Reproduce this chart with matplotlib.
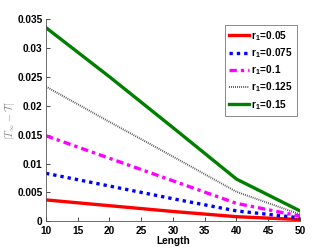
import matplotlib
matplotlib.use("Agg")
import matplotlib.pyplot as plt

plt.rcParams['font.family'] = ['Liberation Sans', 'DejaVu Sans']
plt.rcParams['font.weight'] = 'bold'
plt.rcParams['mathtext.fontset'] = 'cm'

length = [10, 20, 30, 40, 50]
r1_labels = ['0.05', '0.075', '0.1', '0.125', '0.15']
err_005 = [0.0037, 0.0027, 0.0017, 0.0008, 0.0003]
err_0075 = [0.0083, 0.0061, 0.0039, 0.0018, 0.0006]
err_01 = [0.0148, 0.0109, 0.0070, 0.0031, 0.0009]
err_0125 = [0.0233, 0.0172, 0.0112, 0.0051, 0.0012]
err_015 = [0.0335, 0.0250, 0.0162, 0.0073, 0.0018]
yticks = [0, 0.005, 0.01, 0.015, 0.02, 0.025, 0.03, 0.035]
ytick_labels = ['0', '0.005', '0.01', '0.015', '0.02', '0.025', '0.03', '0.035']
xticks = [10, 15, 20, 25, 30, 35, 40, 45, 50]

fig = plt.figure(figsize=(3.32, 2.49), dpi=100)
ax = fig.add_axes([46/332, 1-221.3/249, 254/332, 202.3/249])

series = [err_005, err_0075, err_01, err_0125, err_015]
styles = [
    dict(color='#ff0000', lw=2.4, ls='-'),
    dict(color='#0000ff', lw=2.4, ls=(0, (1, 1.2))),
    dict(color='#ff00ff', lw=2.4, ls=(0, (2.2, 1.2, 1, 1.2))),
    dict(color='#4a4a4a', lw=1.4, ls=(0, (0.45, 0.6))),
    dict(color='#007f00', lw=2.4, ls='-'),
]
for vals, lab, st in zip(series, r1_labels, styles):
    ax.plot(length, vals, label=r'r$_{\mathregular{1}}$=' + lab, **st)

ax.set_xlim(10, 50)
ax.set_ylim(0, 0.035)
ax.set_xticks(xticks)
ax.set_xticklabels([str(x) for x in xticks], fontsize=7.3, fontweight='bold')
ax.set_yticks(yticks)
ax.set_yticklabels(ytick_labels, fontsize=7.3, fontweight='bold')
ax.tick_params(direction='in', length=3, width=0.5, pad=2.5, colors='black')
ax.tick_params(axis='x', pad=3.5)
for s in ['top', 'right']:
    ax.spines[s].set_visible(False)
for s in ['left', 'bottom']:
    ax.spines[s].set_linewidth(0.6)
    ax.spines[s].set_color('#555555')

ax.set_xlabel('Length', fontsize=7.3, fontweight='bold', labelpad=0)
ax.set_ylabel(r'$|T_\infty - \mathcal{T}|$', fontsize=7.5, color='#888888', labelpad=0)

leg = ax.legend(loc='upper right', bbox_to_anchor=(296.7/332, 1-25/249), bbox_transform=fig.transFigure,
                prop={'weight': 'bold', 'size': 7.2}, frameon=True, fancybox=False,
                handlelength=2.0, handletextpad=0.2, labelspacing=0.35, borderpad=0.4,
                borderaxespad=0)
leg.get_frame().set_edgecolor('#555555')
leg.get_frame().set_linewidth(0.6)

fig.savefig('out.png', dpi=100)
